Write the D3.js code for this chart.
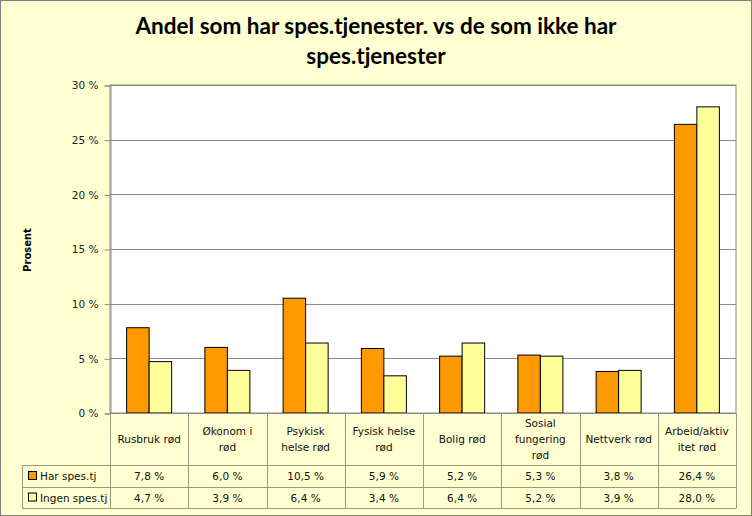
<!DOCTYPE html>
<html><head><meta charset="utf-8">
<script src="https://cdn.jsdelivr.net/npm/d3@7"></script>
<style>body{margin:0;background:#fff}svg{display:block}</style>
</head><body>
<svg id="c" width="752" height="516"></svg>
<script>
const categories = ["Rusbruk rød","Økonomi rød","Psykisk helse rød","Fysisk helse rød","Bolig rød","Sosial fungering rød","Nettverk rød","Arbeid/aktivitet rød"];
const categoryLines = [["Rusbruk rød"],["Økonom i","rød"],["Psykisk","helse rød"],["Fysisk helse","rød"],["Bolig rød"],["Sosial","fungering","rød"],["Nettverk rød"],["Arbeid/aktiv","itet rød"]];
const seriesNames = ["Har spes.tj","Ingen spes.tj"];
const harValues = [7.8,6.0,10.5,5.9,5.2,5.3,3.8,26.4];
const ingenValues = [4.7,3.9,6.4,3.4,6.4,5.2,3.9,28.0];
const yTicks = [0,5,10,15,20,25,30];
const colors = ["#FF9900","#FFFF99"];
const fmt = v => d3.format(".1f")(v).replace(".", ",") + " %";

(function(){
const svg = d3.select("#c");
const W = 752, H = 516;
const pL = 110, pR = 736, pT = 85, pB = 413;
const gridColor = "#8a8a8a";
const tableColor = "#9a9a7a";
const font = "'DejaVu Sans', Verdana, sans-serif";

svg.append("rect").attr("x",0.5).attr("y",0.5).attr("width",W-1).attr("height",H-1)
  .attr("fill","#FFFFD2").attr("stroke","#808080");

const title = svg.append("text").attr("text-anchor","middle").attr("font-family","Lato, 'Open Sans', sans-serif")
  .attr("font-weight","bold").attr("font-size",22.5).attr("fill","#000");
title.append("tspan").attr("x",376).attr("y",34).text("Andel som har spes.tjenester. vs de som ikke har");
title.append("tspan").attr("x",376).attr("y",64).text("spes.tjenester");

const x = d3.scaleBand().domain(categories).range([pL,pR]);
const y = d3.scaleLinear().domain([0,30]).range([pB,pT]);

svg.append("rect").attr("x",pL).attr("y",pT).attr("width",pR-pL).attr("height",pB-pT)
  .attr("fill","#fff").attr("stroke",gridColor);

svg.append("g").selectAll("line").data(yTicks).join("line")
  .attr("x1",pL).attr("x2",pR).attr("y1",d=>Math.round(y(d))+0.5).attr("y2",d=>Math.round(y(d))+0.5)
  .attr("stroke",gridColor);

const yAxis = d3.axisLeft(y).tickValues(yTicks).tickSize(6).tickPadding(6).tickFormat(d=>d+" %");
const ga = svg.append("g").attr("transform",`translate(${pL+0.5},0.5)`).call(yAxis);
ga.select(".domain").attr("stroke",gridColor);
ga.selectAll(".tick line").attr("stroke",gridColor);
ga.selectAll("text").attr("font-family",font).attr("font-size",10.5).attr("fill","#222");

svg.append("text").attr("transform","translate(31,250) rotate(-90)").attr("text-anchor","middle")
  .attr("font-family",font).attr("font-weight","bold").attr("font-size",10).text("Prosent");

const barW = 22.5;
const series = [harValues, ingenValues];
series.forEach((vals,si)=>{
  svg.append("g").selectAll("rect").data(vals).join("rect")
    .attr("x",(d,i)=>x(categories[i]) + x.bandwidth()/2 - barW + si*barW)
    .attr("y",d=>y(d)).attr("width",barW).attr("height",d=>pB-y(d))
    .attr("fill",colors[si]).attr("stroke","#000").attr("stroke-width",1);
});

const rowTop = 465, rowMid = 487, rowBot = 508, tableLeft = 22;
const tg = svg.append("g").attr("stroke",tableColor).attr("fill","none");
categories.forEach((c,i)=>{
  const xx = Math.round(x(c))+0.5;
  tg.append("line").attr("x1",xx).attr("x2",xx).attr("y1",pB).attr("y2",rowBot);
});
tg.append("line").attr("x1",pR+0.5).attr("x2",pR+0.5).attr("y1",pB).attr("y2",rowBot);
[rowTop,rowMid,rowBot].forEach(r=>{
  tg.append("line").attr("x1",tableLeft).attr("x2",pR+0.5).attr("y1",r+0.5).attr("y2",r+0.5);
});
tg.append("line").attr("x1",tableLeft+0.5).attr("x2",tableLeft+0.5).attr("y1",rowTop).attr("y2",rowBot);
svg.append("line").attr("x1",pL).attr("x2",pR).attr("y1",pB+0.5).attr("y2",pB+0.5).attr("stroke",gridColor);

categories.forEach((c,i)=>{
  const lines = categoryLines[i];
  const cx = x(c)+x.bandwidth()/2;
  const lh = 16;
  const midY = (pB+rowTop)/2;
  const t = svg.append("text").attr("text-anchor","middle").attr("font-family",font).attr("font-size",10.5).attr("fill","#111");
  lines.forEach((l,k)=>{
    t.append("tspan").attr("x",cx).attr("y",midY + (k-(lines.length-1)/2)*lh + 4).text(l);
  });
});

const rows = [[rowTop,rowMid],[rowMid,rowBot]];
series.forEach((vals,si)=>{
  const cy = (rows[si][0]+rows[si][1])/2;
  svg.append("rect").attr("x",28.5).attr("y",cy-4.5).attr("width",8).attr("height",8)
    .attr("fill",colors[si]).attr("stroke","#000");
  svg.append("text").attr("x",40).attr("y",cy+4).attr("font-family",font).attr("font-size",10.5).attr("fill","#111").text(seriesNames[si]);
  svg.append("g").selectAll("text").data(vals).join("text")
    .attr("x",(d,i)=>x(categories[i])+x.bandwidth()/2).attr("y",cy+4)
    .attr("text-anchor","middle").attr("font-family",font).attr("font-size",10.5).attr("fill","#111")
    .text(d=>fmt(d));
});
})();
</script>
</body></html>
